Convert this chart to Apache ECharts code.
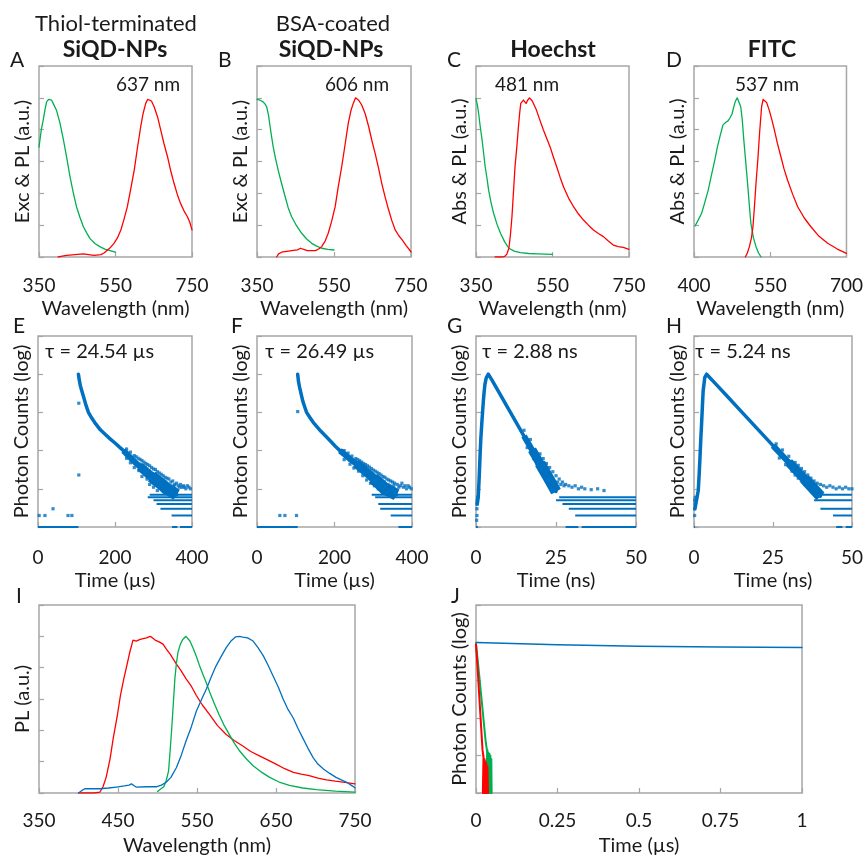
<!DOCTYPE html>
<html><head><meta charset="utf-8">
<script src="https://cdn.jsdelivr.net/npm/echarts@6/dist/echarts.min.js"></script>
<style>html,body{margin:0;padding:0;background:#fff}#c{width:866px;height:857px}</style>
</head><body><div id="c"></div><script>
// ---------- DATA (wavelength nm, normalized intensity) ----------
const A_exc = [[350,0.69],[356,0.8],[361,0.86],[366,0.93],[370,0.975],[375,0.99],[379,1.0],[383,0.985],[387,0.965],[396,0.92],[405,0.84],[414,0.735],[422,0.63],[431,0.505],[440,0.40],[448,0.316],[457,0.25],[466,0.19],[475,0.15],[483,0.117],[496,0.085],[509,0.065],[522,0.05],[536,0.04],[550,0.03]];
const A_pl = [[400,0.0],[411,0.005],[422,0.01],[444,0.015],[466,0.02],[480,0.015],[494,0.01],[512,0.015],[520,0.025],[529,0.044],[537,0.06],[546,0.086],[555,0.12],[564,0.17],[572,0.235],[581,0.316],[590,0.43],[599,0.546],[607,0.68],[616,0.82],[622,0.9],[629,0.965],[634,0.99],[637,1.0],[644,0.98],[651,0.944],[660,0.88],[668,0.80],[677,0.71],[686,0.63],[694,0.545],[703,0.463],[712,0.39],[720,0.337],[729,0.29],[738,0.253],[744,0.22],[750,0.17]];
const B_exc = [[350,0.99],[358,0.985],[366,0.975],[371,0.96],[375,0.944],[380,0.89],[384,0.82],[388,0.755],[392,0.693],[398,0.62],[405,0.546],[414,0.46],[423,0.38],[431,0.31],[440,0.253],[453,0.195],[466,0.149],[479,0.113],[492,0.086],[505,0.068],[518,0.055],[534,0.048],[550,0.044]];
const B_pl = [[401,0.0],[406,0.02],[414,0.03],[427,0.035],[440,0.04],[455,0.045],[463,0.055],[468,0.05],[475,0.045],[481,0.04],[502,0.04],[510,0.05],[518,0.065],[527,0.1],[535,0.149],[544,0.225],[553,0.316],[561,0.44],[570,0.567],[579,0.71],[587,0.84],[594,0.92],[600,0.965],[606,1.0],[614,0.985],[622,0.955],[631,0.9],[640,0.82],[648,0.735],[657,0.65],[666,0.555],[674,0.463],[683,0.375],[692,0.295],[700,0.23],[709,0.17],[718,0.135],[727,0.107],[738,0.07],[750,0.033]];
const C_abs = [[350,0.995],[354,0.95],[357,0.9],[361,0.82],[366,0.735],[370,0.65],[374,0.567],[379,0.49],[383,0.42],[389,0.345],[396,0.275],[405,0.205],[414,0.149],[425,0.095],[436,0.055],[450,0.037],[466,0.027],[488,0.022],[510,0.02],[530,0.018],[550,0.017]];
const C_pl = [[400,0.0],[420,0.0],[426,0.005],[431,0.02],[436,0.055],[440,0.14],[444,0.253],[448,0.41],[452,0.567],[457,0.7],[461,0.82],[464,0.9],[467,0.965],[471,0.975],[474,0.986],[478,0.975],[481,0.965],[485,0.985],[490,1.0],[494,0.99],[497,0.98],[502,0.955],[508,0.923],[517,0.86],[526,0.8],[535,0.745],[544,0.69],[552,0.63],[561,0.567],[570,0.5],[579,0.44],[592,0.37],[605,0.316],[618,0.27],[631,0.232],[644,0.2],[657,0.17],[670,0.148],[683,0.128],[696,0.1],[709,0.075],[722,0.065],[735,0.06],[750,0.048]];
const D_abs = [[402,0.195],[408,0.23],[415,0.275],[421,0.34],[428,0.42],[434,0.51],[441,0.61],[446,0.69],[451,0.756],[457,0.83],[462,0.845],[467,0.855],[471,0.875],[475,0.9],[478,0.94],[481,0.975],[485,1.0],[488,0.99],[492,0.944],[495,0.86],[498,0.735],[502,0.59],[506,0.44],[509,0.32],[512,0.21],[517,0.12],[522,0.065],[527,0.025],[532,0.0]];
const D_pl = [[501,0.0],[505,0.025],[509,0.065],[513,0.12],[516,0.19],[519,0.32],[522,0.463],[526,0.63],[529,0.777],[533,0.944],[536,0.99],[538,1.0],[543,0.97],[548,0.923],[553,0.865],[558,0.8],[564,0.715],[571,0.63],[577,0.555],[584,0.484],[594,0.395],[604,0.316],[617,0.245],[630,0.19],[646,0.13],[663,0.086],[682,0.05],[700,0.023]];
const I_hoechst = [[400,0.0],[420,0.0],[427,0.005],[431,0.04],[435,0.1],[440,0.22],[444,0.35],[449,0.49],[453,0.62],[457,0.72],[461,0.81],[465,0.9],[469,0.976],[473,0.97],[478,0.98],[482,0.985],[486,0.99],[491,1.0],[497,0.976],[502,0.965],[507,0.95],[511,0.92],[516,0.886],[524,0.823],[530,0.78],[536,0.73],[543,0.68],[549,0.624],[557,0.56],[566,0.5],[576,0.43],[587,0.373],[597,0.335],[608,0.3],[618,0.265],[629,0.237],[640,0.21],[650,0.184],[661,0.155],[672,0.132],[682,0.12],[692,0.111],[703,0.095],[714,0.084],[725,0.076],[735,0.07],[750,0.058]];
const I_fitc = [[500,0.01],[504,0.025],[508,0.04],[511,0.08],[514,0.14],[516,0.27],[518,0.41],[520,0.57],[522,0.73],[524,0.83],[526,0.9],[529,0.95],[532,0.98],[536,1.0],[541,0.97],[545,0.925],[549,0.875],[553,0.815],[558,0.75],[562,0.7],[566,0.645],[572,0.57],[578,0.5],[584,0.435],[591,0.373],[597,0.32],[604,0.268],[612,0.22],[621,0.174],[631,0.135],[642,0.1],[654,0.07],[667,0.048],[684,0.032],[701,0.021],[725,0.012],[750,0.006]];
const I_siqd = [[400,0.0],[404,0.015],[408,0.027],[418,0.027],[427,0.027],[438,0.032],[448,0.038],[458,0.045],[464,0.05],[467,0.058],[470,0.048],[473,0.038],[486,0.04],[499,0.04],[505,0.05],[511,0.069],[517,0.1],[524,0.163],[530,0.24],[536,0.33],[543,0.425],[549,0.52],[556,0.6],[562,0.666],[568,0.74],[574,0.81],[581,0.875],[587,0.928],[593,0.97],[599,0.997],[604,1.0],[608,0.995],[614,0.99],[621,0.97],[627,0.93],[634,0.875],[640,0.815],[646,0.75],[653,0.675],[659,0.6],[665,0.535],[672,0.477],[678,0.41],[684,0.35],[690,0.29],[697,0.226],[703,0.185],[710,0.153],[718,0.125],[726,0.1],[732,0.085],[739,0.07],[745,0.05],[750,0.033]];

// ---------- DECAY DATA (time, photon counts) ----------
const E_curve = [[105,10000],[107,7200],[110,5000],[115,3300],[120,2240],[125,1500],[131,1000],[140,700],[150,500],[162,350],[175,263],[188,200],[200,158],[211,125],[222,100],[236,72],[250,52],[265,38],[280,28],[295,21],[310,16],[322,13],[334,10],[347,8.5],[360,7]];
const E_noise = [[230,110],[230,63],[240,91],[240,48],[250,74],[250,36],[255,69],[260,63],[262,30],[265,59],[268,44],[270,55],[270,21],[275,50],[278,36],[280,46],[283,18],[285,43],[288,30],[290,40],[290,13],[295,36],[298,25],[300,33],[300,11],[305,32],[308,21],[310,28],[310,9],[315,26],[318,18],[320,24],[325,22],[328,15],[330,20],[335,19],[338,13],[340,18],[343,12],[345,15],[350,16],[353,12],[355,13],[360,14],[364,12],[368,11],[370,13],[374,11],[378,12],[380,11],[384,10],[388,12],[392,11],[396,10],[106,1740],[106,23],[3,2],[18,2],[39,3],[78,2],[88,2]];
const E_rows = [[7,290,400],[6,285,400],[5,300,400],[4,308,400],[3,318,400],[2,347,400],[1,0,105],[1,348,362],[1,369,400]];
const F_curve = [[105,10000],[107,6500],[110,4500],[114,3000],[118,2000],[123,1400],[128,1000],[136,750],[145,550],[155,420],[165,320],[177,240],[190,175],[202,130],[214,100],[227,78],[240,60],[255,46],[270,35],[285,26],[300,19],[315,14],[330,10],[345,8.5],[360,7]];
const F_noise = [[225,100],[225,58],[235,86],[240,44],[245,72],[250,35],[255,62],[260,58],[262,29],[265,54],[268,41],[270,50],[273,22],[275,46],[278,34],[280,43],[283,17],[285,40],[288,28],[290,37],[293,14],[295,34],[298,24],[300,31],[303,12],[305,29],[308,20],[310,27],[313,10],[315,25],[318,17],[320,23],[325,21],[328,15],[330,20],[335,18],[338,13],[340,17],[343,12],[345,16],[350,15],[353,12],[355,14],[362,13],[366,11],[370,12],[374,14],[378,11],[382,12],[386,10],[390,12],[394,11],[398,10],[105,1050],[59,2],[72,2],[102,2]];
const F_rows = [[7,296,400],[6,305,400],[4,313,400],[3,318,400],[2,345,400],[1,0,105],[1,365,400]];
const G_curve = [[0.4,4],[0.7,6],[1.0,20],[1.25,68],[1.5,200],[1.8,500],[2.05,1000],[2.3,2000],[2.55,3500],[2.8,5500],[3.2,8000],[3.85,10000],[5,7000],[7.5,3000],[10,1290],[12.5,560],[15,240],[17.5,105],[20,46],[22.5,20],[25,8.5]];
const G_noise = [[15,340],[16,120],[17,195],[18,62],[18.5,100],[19,45],[19.5,75],[20,82],[20,32],[21,62],[21,24],[22,46],[22,17],[23,36],[23,13],[24,28],[24,10],[25,22],[25.5,15],[26,18],[26.5,13],[27,15],[27.5,12],[28,13],[29,12],[30,11],[31,12],[32,10],[33,11],[34,10],[36,9.5],[38,10],[40,9],[0.3,2],[0.3,3],[0.3,4],[0.4,5],[0.5,6],[0.2,1.5]];
const G_rows = [[6,26,50],[5,25,50],[4,27,50],[3,29,50],[2,31,50],[1,0,0.6],[1,28,32],[1,33,50]];
const H_curve = [[0.3,3],[0.8,5],[1.35,9],[1.65,25],[1.9,68],[2.15,200],[2.4,500],[2.65,1400],[2.9,3700],[3.4,8100],[4,10000],[7,5400],[10,2930],[15,1050],[20,377],[25,135],[30,49],[35,18],[40,6.4]];
const H_noise = [[26,150],[27,64],[28,104],[29,43],[30,71],[30.5,52],[31,29],[31.5,43],[32,49],[32,23],[33,41],[33,19],[34,34],[34,16],[35,28],[35,13],[36,23],[36,11],[37,19],[37,9],[37.5,15],[38,16],[38.5,13],[39,14],[40,13],[41,12],[42,11],[43,12],[44,11],[45,10],[46,11],[47,10],[48,11],[49,10],[50,10],[0.2,2],[0.2,3],[0.3,4],[0.4,6],[0.2,5]];
const H_rows = [[7,38,50],[5,38,50],[3,40,50],[2,44,50],[1,0,0.3],[1,45,47],[1,48,50]];
const J_siqd = [[0,10000],[0.25,8710],[0.5,7940],[0.75,7590],[1,7410]];
const J_hoechst = [[0,9000],[0.005,2000],[0.01,380],[0.015,72],[0.02,14],[0.0235,8],[0.021,1],[0.023,10],[0.025,1],[0.026,8],[0.028,1],[0.029,7],[0.031,1],[0.032,6],[0.034,1],[0.035,5],[0.037,1]];
const J_fitc = [[0,9000],[0.005,3600],[0.01,1300],[0.015,465],[0.02,170],[0.025,60],[0.03,22],[0.034,13],[0.033,1],[0.035,14],[0.037,1],[0.038,12],[0.040,1],[0.041,11],[0.043,1],[0.044,10],[0.046,1],[0.047,8],[0.048,1]];

// ---------- STYLE ----------
const GREEN='#00B050', RED='#FF0000', BLUE='#0070C0', AXIS='#A6A6A6', TXT='#1a1a1a';
const FONT='Lato, "Open Sans", sans-serif';
const FS=19, FN=20;

const grids=[], xAxes=[], yAxes=[], series=[];
function addPanel(p){
  const i=grids.length;
  grids.push(Object.assign({show:true,borderColor:AXIS,borderWidth:1.5,containLabel:false}, p.grid));
  xAxes.push({gridIndex:i,type:'value',min:p.x[0],max:p.x[1],interval:p.x[2],
    axisLine:{show:false},splitLine:{show:false},
    axisTick:{show:true,inside:true,length:5,lineStyle:{color:AXIS,width:1.2}},
    axisLabel:{margin:p.lm||19,fontFamily:FONT,fontSize:FS,color:TXT},
    name:p.xName,nameLocation:'middle',nameGap:p.ng||42,nameTextStyle:{fontFamily:FONT,fontSize:FN,color:TXT}});
  const ya={gridIndex:i,axisLine:{show:false},splitLine:{show:false},
    axisTick:{show:true,inside:true,length:5,lineStyle:{color:AXIS,width:1.2}},
    axisLabel:{show:false},
    name:p.yName,nameLocation:'middle',nameGap:p.yg||6,nameRotate:90,nameTextStyle:{fontFamily:FONT,fontSize:FN,color:TXT}};
  if(p.log){Object.assign(ya,{type:'log',logBase:10,min:1,max:100000});}
  else{Object.assign(ya,{type:'value',min:0,max:1.2,interval:0.2});}
  yAxes.push(ya);
  const line=(d,c,w,z,cap)=>series.push({type:'line',xAxisIndex:i,yAxisIndex:i,data:d,showSymbol:false,symbol:'none',
    lineStyle:{color:c,width:w,cap:cap||'round',join:'round'},itemStyle:{color:c},silent:true,z:z||2});
  (p.lines||[]).forEach(l=>line(l.d,l.c,l.w||1.3,l.z));
  (p.thick||[]).forEach(t=>line(p.lines[0].d.filter(q=>q[0]>=t[0]),BLUE,t[1],2,'butt'));
  (p.scatter||[]).forEach(s=>series.push({type:'scatter',xAxisIndex:i,yAxisIndex:i,data:s.d,symbol:'rect',symbolSize:s.s||3.2,
    itemStyle:{color:s.c},silent:true}));
  (p.rows||[]).forEach(r=>line([[r[1],r[0]],[r[2],r[0]]],BLUE,2,2,'butt'));
}

addPanel({grid:{left:39,top:66,width:153,height:191},x:[350,750,200],xName:'Wavelength (nm)',yName:'Exc & PL (a.u.)',
  lines:[{d:A_exc,c:GREEN},{d:A_pl,c:RED}]});
addPanel({grid:{left:257,top:66,width:154,height:191},x:[350,750,200],xName:'Wavelength (nm)',yName:'Exc & PL (a.u.)',
  lines:[{d:B_exc,c:GREEN},{d:B_pl,c:RED}]});
addPanel({grid:{left:476,top:66,width:153,height:191},x:[350,750,200],xName:'Wavelength (nm)',yName:'Abs & PL (a.u.)',
  lines:[{d:C_abs,c:GREEN},{d:C_pl,c:RED}]});
addPanel({grid:{left:694,top:66,width:154,height:191},x:[400,700,150],xName:'Wavelength (nm)',yName:'Abs & PL (a.u.)',
  lines:[{d:D_abs,c:GREEN},{d:D_pl,c:RED}]});
addPanel({grid:{left:38,top:336,width:154,height:191},x:[0,400,200],xName:'Time (µs)',yName:'Photon Counts (log)',log:true,lm:21,ng:44,
  lines:[{d:E_curve,c:BLUE,w:3.5}],thick:[[215,6],[255,9],[295,12]],scatter:[{d:E_noise,c:BLUE}],rows:E_rows});
addPanel({grid:{left:257,top:336,width:155,height:191},x:[0,400,200],xName:'Time (µs)',yName:'Photon Counts (log)',log:true,lm:21,ng:44,
  lines:[{d:F_curve,c:BLUE,w:3.5}],thick:[[210,6],[250,9],[290,12]],scatter:[{d:F_noise,c:BLUE}],rows:F_rows});
addPanel({grid:{left:476,top:336,width:160,height:191},x:[0,50,25],xName:'Time (ns)',yName:'Photon Counts (log)',log:true,lm:21,ng:44,
  lines:[{d:G_curve,c:BLUE,w:3.5}],thick:[[14,6],[17.5,9],[20,11]],scatter:[{d:G_noise,c:BLUE}],rows:G_rows});
addPanel({grid:{left:694,top:336,width:160,height:191},x:[0,50,25],xName:'Time (ns)',yName:'Photon Counts (log)',log:true,lm:21,ng:44,
  lines:[{d:H_curve,c:BLUE,w:3.5}],thick:[[24,6],[29,9],[33,11]],scatter:[{d:H_noise,c:BLUE}],rows:H_rows});
addPanel({grid:{left:39,top:605,width:316,height:191},x:[350,750,100],xName:'Wavelength (nm)',yName:'PL (a.u.)',lm:18,ng:43,
  lines:[{d:I_hoechst,c:RED},{d:I_fitc,c:GREEN},{d:I_siqd,c:BLUE}]});
addPanel({grid:{left:476,top:605,width:326,height:191},x:[0,1,0.25],xName:'Time (µs)',yName:'Photon Counts (log)',log:true,lm:18,ng:43,
  lines:[{d:J_siqd,c:BLUE,w:1.5,z:3},{d:J_fitc,c:GREEN,w:2},{d:J_hoechst,c:RED,w:2}]});

function txt(t,x,y,o){o=o||{};return {type:'text',x:x,y:y,silent:true,style:{text:t,fill:TXT,
  font:(o.b?'bold ':'')+(o.s||19)+'px '+FONT,textAlign:o.a||'center',textVerticalAlign:'middle'}};}
const graphics=[
  txt('Thiol-terminated',116,24,{s:22}), txt('SiQD-NPs',115,50,{s:23,b:true}),
  txt('BSA-coated',333,24,{s:22}), txt('SiQD-NPs',331,50,{s:23,b:true}),
  txt('Hoechst',553,50,{s:23,b:true}), txt('FITC',772,50,{s:23,b:true}),
  txt('A',10,60,{s:21,a:'left'}), txt('B',218,60,{s:21,a:'left'}), txt('C',447,60,{s:21,a:'left'}), txt('D',666,60,{s:21,a:'left'}),
  txt('E',13,326,{s:21,a:'left'}), txt('F',231,326,{s:21,a:'left'}), txt('G',447,326,{s:21,a:'left'}), txt('H',666,326,{s:21,a:'left'}),
  txt('I',16,596,{s:21,a:'left'}), txt('J',451,596,{s:21,a:'left'}),
  txt('637 nm',148,85,{s:19}), txt('606 nm',357,85,{s:19}), txt('481 nm',527,85,{s:19}), txt('537 nm',767,85,{s:19}),
  txt('τ = 24.54 µs',45,352,{s:20,a:'left'}), txt('τ = 26.49 µs',265,352,{s:20,a:'left'}),
  txt('τ = 2.88 ns',482,352,{s:20,a:'left'}), txt('τ = 5.24 ns',695,352,{s:20,a:'left'})
];

const chart=echarts.init(document.getElementById('c'),null,{renderer:'canvas'});
chart.setOption({animation:false,backgroundColor:'#fff',grid:grids,xAxis:xAxes,yAxis:yAxes,series:series,graphic:graphics});
</script></body></html>
